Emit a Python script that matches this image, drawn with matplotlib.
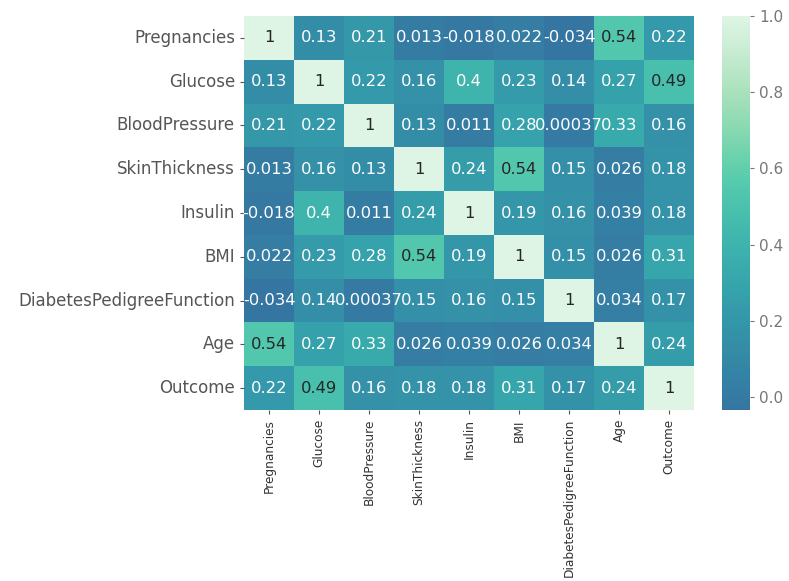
import numpy as np
import pandas as pd
import seaborn as sns
import matplotlib.pyplot as plt

plt.rcParams['font.family'] = ['DejaVu Sans']

# columnas del dataset de diabetes
cols = ['Pregnancies', 'Glucose', 'BloodPressure', 'SkinThickness', 'Insulin',
        'BMI', 'DiabetesPedigreeFunction', 'Age', 'Outcome']

# matriz de correlacion
r_preg = [1, 0.13, 0.21, 0.013, -0.018, 0.022, -0.034, 0.54, 0.22]
r_gluc = [0.13, 1, 0.22, 0.16, 0.4, 0.23, 0.14, 0.27, 0.49]
r_bp = [0.21, 0.22, 1, 0.13, 0.011, 0.28, 0.00037, 0.33, 0.16]
r_skin = [0.013, 0.16, 0.13, 1, 0.24, 0.54, 0.15, 0.026, 0.18]
r_ins = [-0.018, 0.4, 0.011, 0.24, 1, 0.19, 0.16, 0.039, 0.18]
r_bmi = [0.022, 0.23, 0.28, 0.54, 0.19, 1, 0.15, 0.026, 0.31]
r_dpf = [-0.034, 0.14, 0.00037, 0.15, 0.16, 0.15, 1, 0.034, 0.17]
r_age = [0.54, 0.27, 0.33, 0.026, 0.039, 0.026, 0.034, 1, 0.24]
r_out = [0.22, 0.49, 0.16, 0.18, 0.18, 0.31, 0.17, 0.24, 1]

corr = pd.DataFrame([r_preg, r_gluc, r_bp, r_skin, r_ins, r_bmi, r_dpf, r_age, r_out],
                    index=cols, columns=cols)

W, H = 789, 581
fig = plt.figure(figsize=(W / 100, H / 100), dpi=100)
ax = fig.add_axes([244 / W, 1 - 410 / H, (694 - 244) / W, (410 - 16) / H])
cax = fig.add_axes([722 / W, 1 - 410 / H, (750 - 722) / W, (410 - 16) / H])

sns.heatmap(corr, annot=True, cmap='mako', center=0, ax=ax, cbar_ax=cax,
            annot_kws={'fontsize': 11.8})

lbl = '#555555'
ax.tick_params(axis='y', labelsize=12, colors=lbl, length=3)
ax.tick_params(axis='x', labelsize=9.7, colors=lbl, length=3)
for t in ax.get_yticklabels():
    t.set_color('#555555')
    t.set_rotation(0)
for t in ax.get_xticklabels():
    t.set_color('#333333')
    t.set_rotation(90)
    t.set_family(['Liberation Sans Narrow', 'DejaVu Sans'])
    t.set_stretch('condensed')
cax.tick_params(labelsize=11, colors='#777777', length=3)
cax.set_yticks([0.0, 0.2, 0.4, 0.6, 0.8, 1.0])
cax.set_yticklabels(['0.0', '0.2', '0.4', '0.6', '0.8', '1.0'])
for s in cax.spines.values():
    s.set_visible(False)

fig.savefig('out.png', dpi=100)
